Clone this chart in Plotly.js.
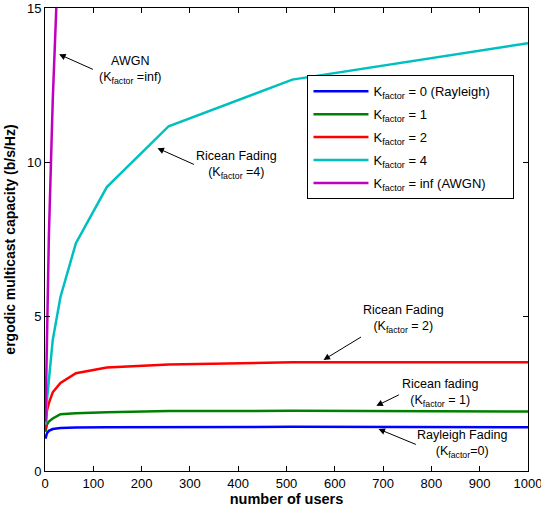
<!DOCTYPE html>
<html>
<head>
<meta charset="utf-8">
<script src="https://cdn.plot.ly/plotly-3.0.1.min.js"></script>
<style>html,body{margin:0;padding:0;background:#fff;}#chart{width:541px;height:507px;}</style>
</head>
<body>
<div id="chart"></div>
<script>
const users = [1, 2, 4, 8, 16, 32, 64, 128, 256, 512, 1000];
const rayleigh = [1.05, 1.15, 1.22, 1.30, 1.36, 1.39, 1.41, 1.42, 1.43, 1.43, 1.42];
const k1 = [1.27, 1.40, 1.50, 1.60, 1.70, 1.84, 1.87, 1.90, 1.94, 1.95, 1.93];
const k2 = [1.33, 1.65, 1.95, 2.20, 2.55, 2.85, 3.17, 3.35, 3.45, 3.52, 3.52];
const k4 = [1.50, 1.90, 2.30, 2.94, 4.24, 5.64, 7.38, 9.20, 11.17, 12.68, 13.86];
const awgnUsers = [1, 2, 4, 8, 16, 32];
const awgn = [1.6, 2.6, 4.6, 7.6, 12.0, 18.5];
const legendNames = [
  'K<sub>factor</sub> = 0 (Rayleigh)\u00a0\u00a0\u00a0\u00a0\u00a0',
  'K<sub>factor</sub> = 1',
  'K<sub>factor</sub> = 2',
  'K<sub>factor</sub> = 4',
  'K<sub>factor</sub> = inf (AWGN)'
];
const colors = ['#0000ff', '#008000', '#ff0000', '#00bfbf', '#bf00bf'];
const xTicks = [0, 100, 200, 300, 400, 500, 600, 700, 800, 900, 1000];
const yTicks = [0, 5, 10, 15];

const series = [[users, rayleigh], [users, k1], [users, k2], [users, k4], [awgnUsers, awgn]];
const traces = series.map((s, i) => ({
  x: s[0], y: s[1], type: 'scatter', mode: 'lines',
  name: legendNames[i], legendgroup: 'g' + i,
  line: {color: colors[i], width: 2.5}
}));

// arrows: [headX, headY, tailX, tailY]
const arrows = [
  [29.2, 13.5, 102.3, 12.99],
  [232.9, 10.46, 311.4, 9.91],
  [576.6, 3.60, 657.4, 4.37],
  [686, 2.11, 735.8, 2.49],
  [690.5, 1.36, 771, 0.84]
];
const labels = [
  [176.8, 12.99, 'AWGN<br>(K<sub>factor</sub> =inf)'],
  [396.3, 9.91, 'Ricean Fading<br>(K<sub>factor</sub> =4)'],
  [742, 4.92, 'Ricean Fading<br>(K<sub>factor</sub> = 2)'],
  [818.6, 2.53, 'Ricean fading<br>(K<sub>factor</sub> = 1)'],
  [864, 0.87, 'Rayleigh Fading<br>(K<sub>factor</sub>=0)']
];
const annotations = [];
arrows.forEach(a => annotations.push({
  x: a[0], y: a[1], ax: a[2], ay: a[3], xref: 'x', yref: 'y', axref: 'x', ayref: 'y',
  text: '', showarrow: true, arrowhead: 2, arrowsize: 1.3, arrowwidth: 1, arrowcolor: '#000'
}));
labels.forEach(l => annotations.push({
  x: l[0], y: l[1], xref: 'x', yref: 'y', text: l[2], showarrow: false,
  font: {size: 12.5, color: '#000'}, align: 'center', xanchor: 'center', yanchor: 'middle'
}));

const axisCommon = {
  showline: true, linecolor: '#000', linewidth: 1, mirror: 'ticks',
  ticks: 'inside', ticklen: 5, tickcolor: '#000', showgrid: false, zeroline: false,
  tickfont: {size: 13, color: '#000'}, ticklabeloverflow: 'allow'
};

const layout = {
  width: 541, height: 507,
  margin: {l: 44.6, r: 13.4, t: 8, b: 36},
  paper_bgcolor: '#fff', plot_bgcolor: '#fff',
  font: {family: 'Liberation Sans, Arial, sans-serif', color: '#000'},
  showlegend: true,
  legend: {
    x: 0.543, y: 0.855, xanchor: 'left', yanchor: 'top',
    bordercolor: '#000', borderwidth: 1.2, bgcolor: '#fff',
    font: {size: 13, color: '#000'}, tracegroupgap: 3, itemwidth: 55
  },
  xaxis: Object.assign({}, axisCommon, {
    range: [0, 1000], tickvals: xTicks, ticktext: xTicks.map(String),
    title: {text: '<b>number of users</b>', font: {size: 14.5}, standoff: 2}
  }),
  yaxis: Object.assign({}, axisCommon, {
    range: [0, 15], tickvals: yTicks, ticktext: yTicks.map(String),
    title: {text: '<b>ergodic multicast capacity (b/s/Hz)</b>', font: {size: 14}, standoff: 8}
  }),
  annotations: annotations
};

Plotly.newPlot('chart', traces, layout, {displayModeBar: false, staticPlot: true});
</script>
</body>
</html>
